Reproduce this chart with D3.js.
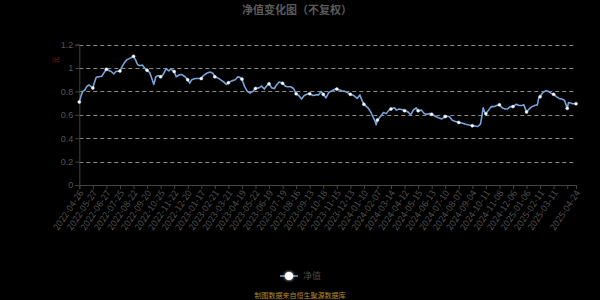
<!DOCTYPE html>
<html>
<head>
<meta charset="utf-8">
<script src="https://cdn.jsdelivr.net/npm/d3@7"></script>
<style>
  html, body { margin: 0; padding: 0; background: #000; }
  svg { display: block; }
</style>
</head>
<body>
<div id="svgcontainer"></div>
<script>
// ---------------------------------------------------------------------//
//                                Data                                  //
// ---------------------------------------------------------------------//

// trading day number (0 = 2022-04-26) and net value
var dayIndex = [
  0, 3, 5, 8, 11, 14, 20, 22, 25, 29, 33, 36, 40, 43, 47, 51, 54, 60, 63, 66,
  70, 74, 80, 83, 86, 89, 93, 97, 100, 104, 107, 110, 113, 117, 120, 124, 128, 132, 135, 140,
  143, 147, 151, 156, 160, 163, 166, 171, 177, 180, 183, 188, 193, 197, 200, 206, 212, 217, 220, 225,
  230, 234, 237, 240, 244, 248, 252, 256, 260, 265, 269, 273, 277, 280, 284, 288, 291, 295, 300, 304,
  307, 312, 316, 320, 324, 328, 332, 336, 340, 345, 349, 353, 357, 360, 364, 368, 373, 378, 380, 387,
  392, 397, 400, 405, 410, 414, 417, 420, 426, 430, 434, 437, 438, 440, 445, 449, 453, 457, 460, 465,
  468, 472, 476, 480, 485, 489, 493, 497, 500, 505, 509, 513, 517, 520, 526, 530, 535, 540, 546, 550,
  554, 560, 566, 570, 575, 580, 583, 588, 592, 594, 596, 598, 600, 604, 608, 612, 616, 620, 624, 628,
  632, 636, 640, 645, 649, 653, 656, 660, 664, 668, 672, 676, 678, 680, 684, 688, 692, 696, 700, 704,
  708, 712, 716, 720, 722, 725, 728, 733
];

var navValues = [
  0.71, 0.77, 0.80, 0.81, 0.84, 0.855, 0.83, 0.87, 0.92, 0.925, 0.93, 0.955, 0.99, 0.98, 0.97, 0.95, 0.97, 0.975, 1.01, 1.04,
  1.07, 1.08, 1.10, 1.07, 1.03, 1.02, 1.025, 0.995, 0.98, 0.96, 0.91, 0.86, 0.925, 0.935, 0.925, 0.945, 0.995, 0.975, 0.99, 0.97,
  0.925, 0.94, 0.945, 0.925, 0.90, 0.87, 0.90, 0.91, 0.91, 0.91, 0.935, 0.955, 0.965, 0.955, 0.925, 0.91, 0.885, 0.86, 0.875, 0.89,
  0.90, 0.925, 0.92, 0.905, 0.84, 0.80, 0.785, 0.80, 0.825, 0.83, 0.845, 0.82, 0.85, 0.865, 0.83, 0.825, 0.855, 0.88, 0.87, 0.845,
  0.84, 0.84, 0.825, 0.78, 0.765, 0.735, 0.765, 0.775, 0.78, 0.765, 0.77, 0.77, 0.80, 0.775, 0.745, 0.79, 0.805, 0.82, 0.82, 0.805,
  0.80, 0.785, 0.775, 0.765, 0.74, 0.77, 0.725, 0.69, 0.66, 0.625, 0.575, 0.54, 0.515, 0.555, 0.59, 0.62, 0.61, 0.64, 0.65, 0.66,
  0.64, 0.65, 0.645, 0.635, 0.625, 0.60, 0.64, 0.66, 0.635, 0.64, 0.61, 0.605, 0.61, 0.605, 0.585, 0.575, 0.565, 0.585, 0.585, 0.555,
  0.545, 0.535, 0.527, 0.52, 0.513, 0.507, 0.505, 0.50, 0.52, 0.585, 0.66, 0.625, 0.61, 0.64, 0.67, 0.67, 0.68, 0.685, 0.66, 0.65,
  0.65, 0.67, 0.67, 0.69, 0.68, 0.68, 0.685, 0.625, 0.65, 0.67, 0.68, 0.685, 0.745, 0.755, 0.79, 0.805, 0.80, 0.785, 0.775, 0.755,
  0.74, 0.735, 0.725, 0.655, 0.705, 0.70, 0.695, 0.695
];

// category axis labels, one every 20 trading days, plus the last day
var tickDates = [
  "2022-04-26", "2022-05-27", "2022-06-27", "2022-07-25", "2022-08-22", "2022-09-20",
  "2022-10-25", "2022-11-22", "2022-12-20", "2023-01-17", "2023-02-21", "2023-03-21",
  "2023-04-19", "2023-05-22", "2023-06-19", "2023-07-19", "2023-08-16", "2023-09-13",
  "2023-10-18", "2023-11-15", "2023-12-13", "2024-01-10", "2024-02-07", "2024-03-14",
  "2024-04-12", "2024-05-15", "2024-06-13", "2024-07-10", "2024-08-07", "2024-09-04",
  "2024-10-11", "2024-11-08", "2024-12-06", "2025-01-06", "2025-02-11", "2025-03-11",
  "2025-04-24"
];
var yTicks = [0, 0.2, 0.4, 0.6, 0.8, 1, 1.2];

var lastDay = 733;
var labelStep = 20;

// ---------------------------------------------------------------------//
//                          d3.js Initialization                        //
// ---------------------------------------------------------------------//

var width = 600, height = 300;
var plotLeft = 79.3, plotRight = 576, plotTop = 44.6, plotBottom = 185;
var lineColor = "#76a3d9";

var svg = d3.select("#svgcontainer").append("svg")
  .attr("width", width)
  .attr("height", height)
  .style("font-family", "'Noto Sans CJK SC', 'Noto Sans', sans-serif");

svg.append("rect")
  .attr("width", "100%")
  .attr("height", "100%")
  .attr("fill", "black");

var x = d3.scaleLinear().domain([0, lastDay]).range([plotLeft, plotRight]);
var y = d3.scaleLinear().domain([0, 1.2]).range([plotBottom, plotTop]);

// glow for the legend symbol
var defs = svg.append("defs");
var glow = defs.append("filter").attr("id", "glow")
  .attr("x", "-100%").attr("y", "-100%").attr("width", "300%").attr("height", "300%");
glow.append("feGaussianBlur").attr("stdDeviation", 1.5).attr("result", "b");
var merge = glow.append("feMerge");
merge.append("feMergeNode").attr("in", "b");
merge.append("feMergeNode").attr("in", "SourceGraphic");

// ---------------------------------------------------------------------//
//                              Title                                   //
// ---------------------------------------------------------------------//

svg.append("text")
  .attr("x", 297)
  .attr("y", 14)
  .attr("text-anchor", "middle")
  .attr("fill", "#5a5a5a")
  .attr("font-size", 11)
  .attr("font-weight", "bold")
  .text("净值变化图（不复权）");

// ---------------------------------------------------------------------//
//                           Grid and Axes                              //
// ---------------------------------------------------------------------//

svg.append("g")
  .selectAll("line")
  .data(yTicks.filter(function(d) { return d > 0; }))
  .enter().append("line")
  .attr("x1", plotLeft)
  .attr("x2", plotRight)
  .attr("y1", function(d) { return Math.round(y(d)) + 0.5; })
  .attr("y2", function(d) { return Math.round(y(d)) + 0.5; })
  .attr("stroke", "#8a8a8a")
  .attr("stroke-dasharray", "4,3");

var yAxis = svg.append("g")
  .attr("transform", "translate(" + plotLeft + ",0)")
  .call(d3.axisLeft(y).tickValues(yTicks).tickSize(4).tickPadding(2)
    .tickFormat(function(d) { return d3.format("~g")(d); }));
yAxis.select(".domain").attr("stroke", "#444");
yAxis.selectAll(".tick line").attr("stroke", "#444");
yAxis.selectAll("text").attr("fill", "#555").attr("font-size", 9);

var tickIdx = tickDates.map(function(d, i) {
  return i < tickDates.length - 1 ? i * labelStep : lastDay;
});
var tickIdxAll = d3.range(0, lastDay, labelStep).concat([lastDay]);

var xAxis = svg.append("g")
  .attr("transform", "translate(0," + plotBottom + ")")
  .call(d3.axisBottom(x).tickValues(tickIdxAll).tickSize(4).tickFormat(""));
xAxis.select(".domain").attr("stroke", "#444");
xAxis.selectAll(".tick line").attr("stroke", "#444");

svg.append("g")
  .selectAll("text")
  .data(tickDates)
  .enter().append("text")
  .attr("transform", function(d, i) {
    return "translate(" + (x(tickIdx[i]) + 2) + "," + (plotBottom + 6) + ") rotate(-56)";
  })
  .attr("text-anchor", "end")
  .attr("dy", "0.35em")
  .attr("fill", "#505050")
  .attr("font-size", 9)
  .text(function(d) { return d; });

// unit label
svg.append("text")
  .attr("transform", "translate(56,60) rotate(-90)")
  .attr("text-anchor", "middle")
  .attr("dy", "0.35em")
  .attr("fill", "#8b1010")
  .attr("font-size", 7)
  .text("元");

// ---------------------------------------------------------------------//
//                             NAV Line                                 //
// ---------------------------------------------------------------------//

var points = dayIndex.map(function(d, i) { return { day: d, v: navValues[i] }; });

var line = d3.line()
  .x(function(d) { return x(d.day); })
  .y(function(d) { return y(d.v); });

svg.append("path")
  .datum(points)
  .attr("fill", "none")
  .attr("stroke", lineColor)
  .attr("stroke-width", 1.6)
  .attr("stroke-linejoin", "round")
  .attr("d", line);

// symbols are shown on every labelled day
var symbolPts = points.filter(function(d) {
  return d.day % labelStep === 0 || d.day === lastDay;
});

svg.append("g")
  .selectAll("circle")
  .data(symbolPts)
  .enter().append("circle")
  .attr("cx", function(d) { return x(d.day); })
  .attr("cy", function(d) { return y(d.v); })
  .attr("r", 1.5)
  .attr("fill", "#ffffff")
  .attr("stroke", "#cfe0f5")
  .attr("stroke-width", 0.5);

// ---------------------------------------------------------------------//
//                          Legend and Source                           //
// ---------------------------------------------------------------------//

var legend = svg.append("g").attr("transform", "translate(289,276)");
legend.append("line")
  .attr("x1", -9).attr("x2", 9)
  .attr("stroke", lineColor)
  .attr("stroke-width", 1.5);
legend.append("circle")
  .attr("r", 4)
  .attr("fill", "#ffffff")
  .attr("filter", "url(#glow)");
legend.append("text")
  .attr("x", 14)
  .attr("dy", "0.35em")
  .attr("fill", "#4a4a4a")
  .attr("font-size", 9)
  .text("净值");

svg.append("text")
  .attr("x", 300)
  .attr("y", 298)
  .attr("text-anchor", "middle")
  .attr("fill", "#b5892a")
  .attr("font-size", 7)
  .text("制图数据来自恒生聚源数据库");
</script>
</body>
</html>
